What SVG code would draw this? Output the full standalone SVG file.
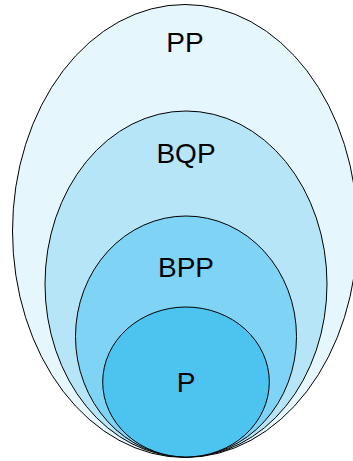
<svg xmlns="http://www.w3.org/2000/svg" width="353" height="461" viewBox="0 0 353 461">
  <style>
    .set { stroke: #000; stroke-width: 1; }
    .label { font-family: "Liberation Sans", Arial, sans-serif; font-size: 28px; fill: #000; text-anchor: middle; }
  </style>
  <rect width="353" height="461" fill="#fff"/>
  <!-- Nested complexity classes, all tangent at the bottom -->
  <g id="pp">
    <ellipse class="set" cx="185" cy="231" rx="172.5" ry="226.5" fill="#E5F6FD"/>
    <text class="label" x="185" y="52">PP</text>
  </g>
  <g id="bqp">
    <ellipse class="set" cx="186" cy="284" rx="141" ry="173" fill="#B6E5F8"/>
    <text class="label" x="186" y="163">BQP</text>
  </g>
  <g id="bpp">
    <ellipse class="set" cx="186" cy="336.5" rx="110.5" ry="120.5" fill="#7FD3F5"/>
    <text class="label" x="186" y="277">BPP</text>
  </g>
  <g id="p">
    <ellipse class="set" cx="186" cy="382" rx="83.3" ry="75" fill="#4DC3EF"/>
    <text class="label" x="186" y="392">P</text>
  </g>
</svg>
